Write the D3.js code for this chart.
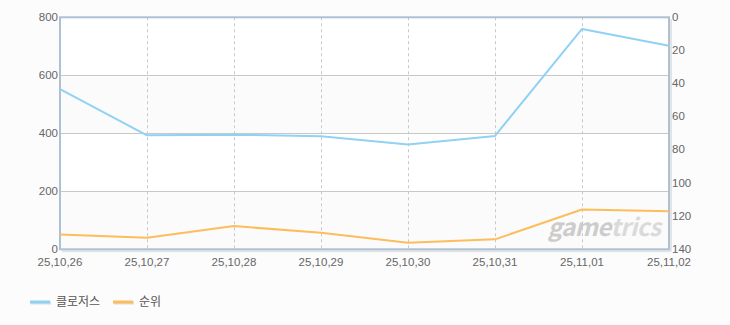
<!DOCTYPE html>
<html><head><meta charset="utf-8">
<script src="https://cdn.jsdelivr.net/npm/d3@7/dist/d3.min.js"></script>
<style>
html,body{margin:0;padding:0;background:#fcfcfc;}
svg{display:block;}
text{font-family:"Noto Sans CJK KR","DejaVu Sans",sans-serif;}
text.tick{font-family:"Liberation Sans",Arial,sans-serif;}
</style></head>
<body><svg id="c" width="730" height="325"></svg>
<script>
const categories = ["25,10,26","25,10,27","25,10,28","25,10,29","25,10,30","25,10,31","25,11,01","25,11,02"];
const seriesNames = ["클로저스","순위"];
const closersValues = [552, 393, 395, 390, 361, 391, 760, 702];
const rankValues = [131, 133, 126, 130, 136, 134, 116, 117];
const leftTicks = [0, 200, 400, 600, 800];
const rightTicks = [0, 20, 40, 60, 80, 100, 120, 140];
const colors = ["#90d2f4", "#fcbd5c"];

const svg = d3.select("#c");
const L = 60, R = 669, T = 17.3, B = 249.3;
const x = d3.scalePoint().domain(categories).range([L, R]);
const yL = d3.scaleLinear().domain([0, 800]).range([B, T]);
const yR = d3.scaleLinear().domain([0, 140]).range([T, B]);

// plot background bands
svg.append("rect").attr("x", L).attr("y", T).attr("width", R - L).attr("height", B - T).attr("fill", "#ffffff");
for (let i = 0; i < leftTicks.length - 1; i++) {
  if (i % 2 === 0) {
    svg.append("rect").attr("x", L).attr("width", R - L)
      .attr("y", yL(leftTicks[i + 1])).attr("height", yL(leftTicks[i]) - yL(leftTicks[i + 1]))
      .attr("fill", "#fbfbfb");
  }
}
// horizontal grid
svg.append("g").selectAll("line").data(leftTicks.slice(1, -1)).join("line")
  .attr("x1", L).attr("x2", R).attr("y1", d => Math.round(yL(d)) + 0.5).attr("y2", d => Math.round(yL(d)) + 0.5)
  .attr("stroke", "#c8c8c8").attr("stroke-width", 1);
// vertical dashed grid
svg.append("g").selectAll("line").data(categories.slice(1, -1)).join("line")
  .attr("x1", d => Math.round(x(d)) + 0.5).attr("x2", d => Math.round(x(d)) + 0.5)
  .attr("y1", T).attr("y2", B)
  .attr("stroke", "#c8c8c8").attr("stroke-width", 1).attr("stroke-dasharray", "3,3");

// shadows of frame
svg.append("line").attr("x1", R + 2).attr("x2", R + 2).attr("y1", T + 2).attr("y2", B + 2).attr("stroke", "#e4e4e4").attr("stroke-width", 2);
svg.append("line").attr("x1", L + 2).attr("x2", R + 2).attr("y1", B + 2).attr("y2", B + 2).attr("stroke", "#e4e4e4").attr("stroke-width", 2);
// frame
svg.append("rect").attr("x", L).attr("y", T).attr("width", R - L).attr("height", B - T)
  .attr("fill", "none").attr("stroke", "#adc0d4").attr("stroke-width", 2);

// watermark
const wm = svg.append("text").attr("x", 604).attr("y", 236).attr("text-anchor", "middle")
  .attr("font-family", "'DejaVu Sans', sans-serif").attr("font-style", "italic").attr("font-weight", "bold")
  .attr("font-size", 24).attr("letter-spacing", -0.5);
wm.append("tspan").attr("fill", "#cccccc").text("game");
wm.append("tspan").attr("fill", "#dadada").text("trics");

// lines
const line = (ys) => d3.line().x((d, i) => x(categories[i])).y(d => ys(d));
svg.append("path").datum(closersValues).attr("d", line(yL)).attr("fill", "none")
  .attr("stroke", colors[0]).attr("stroke-width", 2).attr("stroke-linejoin", "round");
svg.append("path").datum(rankValues).attr("d", line(yR)).attr("fill", "none")
  .attr("stroke", colors[1]).attr("stroke-width", 2).attr("stroke-linejoin", "round");

// axes labels
const tc = "#666";
svg.append("g").selectAll("text").data(leftTicks).join("text").attr("class", "tick")
  .attr("x", L - 2).attr("y", d => yL(d) + 3.5).attr("text-anchor", "end")
  .attr("font-size", 11.5).attr("fill", tc).text(d => d);
svg.append("g").selectAll("text").data(rightTicks).join("text").attr("class", "tick")
  .attr("x", R + 3).attr("y", d => yR(d) + 3.5).attr("text-anchor", "start")
  .attr("font-size", 11.5).attr("fill", tc).text(d => d);
svg.append("g").selectAll("text").data(categories).join("text").attr("class", "tick")
  .attr("x", d => x(d)).attr("y", 266).attr("text-anchor", "middle")
  .attr("font-size", 11.5).attr("fill", tc).text(d => d);

// legend
const lg = svg.append("g");
const items = [{ name: seriesNames[0], c: colors[0], x: 30 }, { name: seriesNames[1], c: colors[1], x: 113 }];
items.forEach(it => {
  lg.append("line").attr("x1", it.x + 1).attr("x2", it.x + 21).attr("y1", 303).attr("y2", 303).attr("stroke", "#dddddd").attr("stroke-width", 3);
  lg.append("line").attr("x1", it.x).attr("x2", it.x + 20).attr("y1", 302).attr("y2", 302).attr("stroke", it.c).attr("stroke-width", 3);
  lg.append("text").attr("x", it.x + 26).attr("y", 306).attr("font-size", 12).attr("fill", "#555").text(it.name);
});
</script></body></html>
